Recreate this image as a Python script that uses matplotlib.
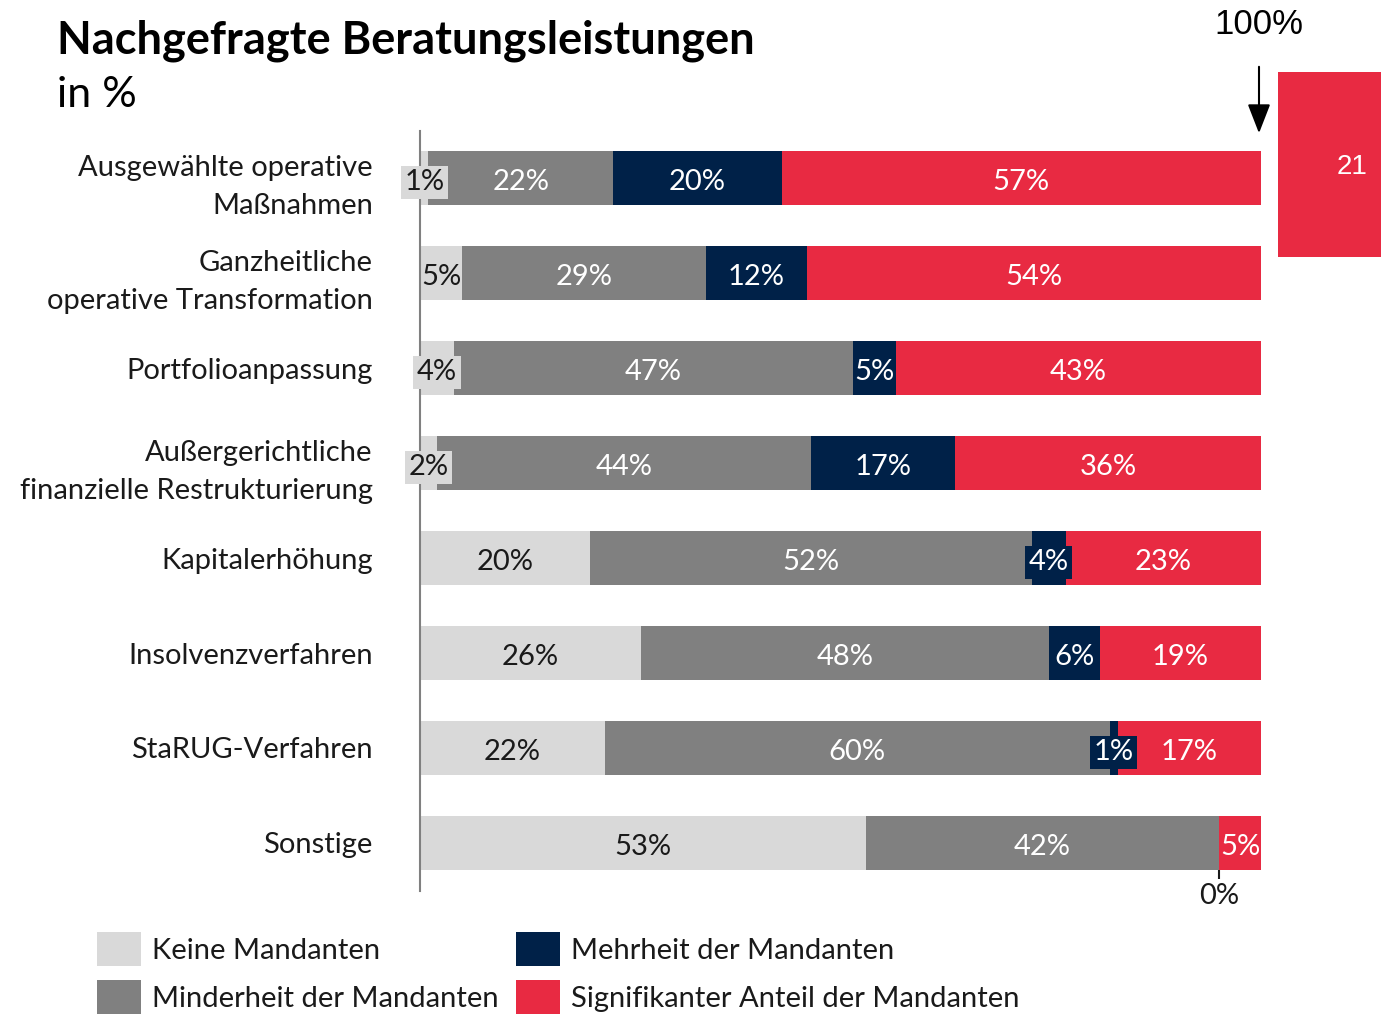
import matplotlib
matplotlib.use("Agg")
import matplotlib.pyplot as plt
from matplotlib.patches import Rectangle, Patch
import numpy as np

categories = [
    "Ausgewählte operative\nMaßnahmen",
    "Ganzheitliche\noperative Transformation",
    "Portfolioanpassung",
    "Außergerichtliche\nfinanzielle Restrukturierung",
    "Kapitalerhöhung",
    "Insolvenzverfahren",
    "StaRUG-Verfahren",
    "Sonstige",
]
keine = [1, 5, 4, 2, 20, 26, 22, 53]
minderheit = [22, 29, 47, 44, 52, 48, 60, 42]
mehrheit = [20, 12, 5, 17, 4, 6, 1, 0]
signifikant = [57, 54, 43, 36, 23, 19, 17, 5]
series_names = ["Keine Mandanten", "Minderheit der Mandanten",
                "Mehrheit der Mandanten", "Signifikanter Anteil der Mandanten"]

colors = ["#d9d9d9", "#808080", "#002148", "#e82a42"]
text_colors = ["#1a1a1a", "white", "white", "white"]

FONT = "Lato"
WEIGHT = "normal"
W, H = 1381, 1017
fig = plt.figure(figsize=(W / 100, H / 100), dpi=100)
ax = fig.add_axes([420 / W, 1 - 890.5 / H, 841 / W, 760 / H])

data = np.array([keine, minderheit, mehrheit, signifikant], dtype=float)
totals = data.sum(axis=0)
shares = data / totals * 100
y = np.arange(len(categories))
left = np.zeros(len(categories))
for i in range(4):
    ax.barh(y, shares[i], left=left, height=0.56, color=colors[i], linewidth=0)
    for j in range(len(categories)):
        v = data[i][j]
        cx = left[j] + shares[i][j] / 2
        if v == 0:
            ax.plot([left[j], left[j]], [j + 0.28, j + 0.38], color="#1a1a1a", lw=1.5,
                    solid_capstyle="butt")
            ax.text(left[j], j + 0.53, "0%", ha="center", va="center_baseline",
                    fontsize=21, color="#1a1a1a", family=FONT, fontweight=WEIGHT)
            continue
        kw = {}
        if v < 5:
            kw["bbox"] = dict(boxstyle="square,pad=0.12", fc=colors[i], ec="none")
        ax.text(cx, j + 0.02, f"{int(v)}%", ha="center", va="center_baseline", fontsize=21,
                color=text_colors[i], family=FONT, fontweight=WEIGHT, **kw)
    left += shares[i]

ax.set_xlim(0, 100)
ax.set_ylim(len(categories) - 0.5, -0.5)
ax.set_xticks([])
ax.set_yticks(y)
ax.set_yticklabels(categories, family=FONT, fontweight=WEIGHT, fontsize=21,
                   color="#1a1a1a", linespacing=1.6)
ax.tick_params(axis="y", length=0, pad=34)
for s in ["top", "right", "bottom"]:
    ax.spines[s].set_visible(False)
ax.spines["left"].set_color("#808080")
ax.spines["left"].set_linewidth(1.5)
ax.patch.set_alpha(0)

# Title
fig.text(57 / W, 1 - 54 / H, "Nachgefragte Beratungsleistungen", family=FONT,
         fontweight="bold", fontsize=32.5, va="baseline", ha="left", color="black")
fig.text(57 / W, 1 - 107 / H, "in %", family=FONT, fontsize=31, va="baseline",
         ha="left", color="black")

# 100% marker
fig.text(1259 / W, 1 - 25 / H, "100%", family="Liberation Sans", fontsize=25,
         ha="center", va="center", color="black")
fig.add_artist(matplotlib.patches.FancyArrowPatch(
    (1259 / W, 1 - 64 / H), (1259 / W, 1 - 136 / H), transform=fig.transFigure,
    arrowstyle="-|>,head_length=0.9,head_width=0.35", mutation_scale=20,
    color="black", lw=1.5))

# page badge
fig.add_artist(Rectangle((1278 / W, 1 - 257 / H), 103 / W, 185 / H,
                         transform=fig.transFigure, fc="#e82a42", ec="none"))
fig.text(1352 / W, 1 - 167 / H, "21", family="Liberation Sans", fontsize=20,
         color="white", ha="center", va="center")

# Legend
handles = [Patch(fc=c, ec="none") for c in colors]
leg = fig.legend(handles, series_names, loc="upper left",
                 bbox_to_anchor=(97 / W, 1 - 932 / H), ncol=2, frameon=False,
                 prop=dict(family=FONT, weight=WEIGHT, size=21),
                 handlelength=1.5, handleheight=1.4, handletextpad=0.38,
                 columnspacing=0.6, labelspacing=0.5, borderpad=0,
                 borderaxespad=0)
for t in leg.get_texts():
    t.set_color("#1a1a1a")

fig.savefig("out.png", dpi=100)
